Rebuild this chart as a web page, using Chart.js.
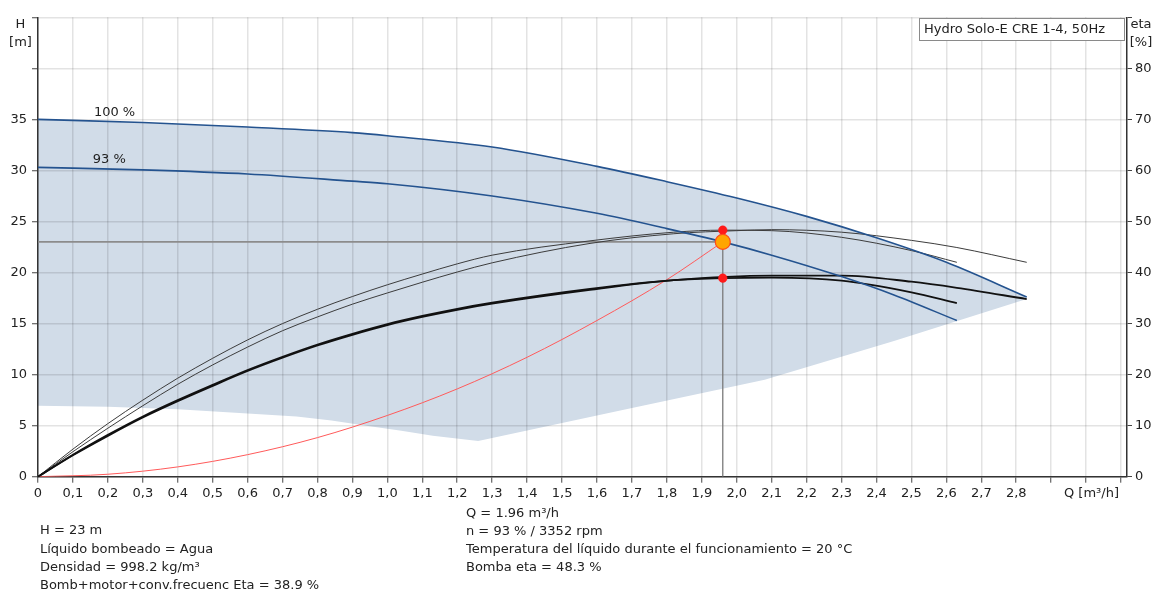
<!DOCTYPE html>
<html>
<head>
<meta charset="utf-8">
<script src="https://cdn.jsdelivr.net/npm/chart.js@4.4.0/dist/chart.umd.min.js"></script>
<style>
html,body{margin:0;padding:0;background:#fff;}
#wrap{width:1156px;height:595px;position:relative;}
</style>
</head>
<body>
<div id="wrap"><canvas id="c" width="1156" height="595"></canvas></div>
<script>
// ---------- tick values & labels ----------
const xTicks = [0,0.1,0.2,0.3,0.4,0.5,0.6,0.7,0.8,0.9,1.0,1.1,1.2,1.3,1.4,1.5,1.6,1.7,1.8,1.9,2.0,2.1,2.2,2.3,2.4,2.5,2.6,2.7,2.8,2.9,3.0,3.1];
const xTickLabels = ['0','0,1','0,2','0,3','0,4','0,5','0,6','0,7','0,8','0,9','1,0','1,1','1,2','1,3','1,4','1,5','1,6','1,7','1,8','1,9','2,0','2,1','2,2','2,3','2,4','2,5','2,6','2,7','2,8','','',''];
const hTicks = [0,5,10,15,20,25,30,35,40,45];
const hTickLabels = ['0','5','10','15','20','25','30','35','',''];
const etaTicks = [0,10,20,30,40,50,60,70,80,90];
const etaTickLabels = ['0','10','20','30','40','50','60','70','80',''];

// ---------- head curves (H [m]) ----------
const h100Q = [0, 0.3, 0.6, 0.9, 1.0, 1.3, 1.6, 1.8, 2.0, 2.2, 2.4, 2.6, 2.83];
const h100  = [35.0, 34.7, 34.25, 33.7, 33.4, 32.3, 30.4, 28.9, 27.3, 25.5, 23.4, 21.0, 17.6];
const h93Q  = [0, 0.3, 0.6, 0.9, 1.0, 1.3, 1.6, 1.8, 1.96, 2.1, 2.3, 2.45, 2.63];
const h93   = [30.3, 30.05, 29.65, 28.95, 28.7, 27.5, 25.8, 24.3, 23.0, 21.7, 19.6, 17.8, 15.3];

// lower boundary of operating range (shaded area)
const lowQ = [0, 0.2, 0.4, 0.6, 0.74, 0.84, 0.94, 1.04, 1.13, 1.26, 1.67, 2.08, 2.45, 2.83];
const lowH = [6.95, 6.85, 6.6, 6.2, 5.9, 5.5, 5.0, 4.5, 4.0, 3.5, 6.5, 9.5, 13.3, 17.4];

// system curve
const sysQ = [0, 0.2, 0.4, 0.6, 0.8, 1.0, 1.2, 1.4, 1.6, 1.8, 1.96];
const sysH = [0, 0.24, 0.96, 2.16, 3.83, 6.0, 8.6, 11.7, 15.3, 19.3, 23.0];

// ---------- efficiency curves (eta [%]) ----------
const etaP93Q = [0, 0.1, 0.2, 0.3, 0.4, 0.5, 0.6, 0.7, 0.8, 0.9, 1.0, 1.1, 1.2, 1.3, 1.58, 1.82, 1.96, 2.1, 2.3, 2.5, 2.63];
const etaP93  = [0, 5.4, 10.4, 15.0, 19.3, 23.2, 26.8, 30.0, 32.8, 35.3, 37.6, 39.7, 41.7, 43.4, 46.2, 47.9, 48.3, 48.2, 46.9, 44.3, 42.0];
const etaP100Q = [0, 0.1, 0.2, 0.3, 0.4, 0.5, 0.6, 0.7, 0.8, 0.9, 1.0, 1.1, 1.2, 1.3, 1.58, 1.82, 2.0, 2.1, 2.3, 2.5, 2.63, 2.83];
const etaP100  = [0, 4.9, 9.5, 13.9, 18.1, 21.9, 25.4, 28.6, 31.3, 33.8, 36.0, 38.1, 40.1, 41.9, 45.7, 47.6, 48.2, 48.4, 47.9, 46.3, 44.9, 42.0];
const etaT93Q = [0, 0.1, 0.2, 0.3, 0.4, 0.5, 0.6, 0.7, 0.8, 0.9, 1.0, 1.1, 1.2, 1.3, 1.58, 1.82, 1.96, 2.1, 2.3, 2.5, 2.63];
const etaT93  = [0, 4.3, 8.2, 11.8, 15.0, 18.0, 20.9, 23.5, 25.9, 28.0, 29.9, 31.5, 32.9, 34.1, 36.8, 38.5, 38.9, 39.0, 38.4, 36.1, 34.0];
const etaT100Q = [0, 0.1, 0.2, 0.3, 0.4, 0.5, 0.6, 0.7, 0.8, 0.9, 1.0, 1.1, 1.2, 1.3, 1.58, 1.82, 2.1, 2.3, 2.5, 2.63, 2.83];
const etaT100  = [0, 4.2, 8.0, 11.6, 14.8, 17.8, 20.7, 23.3, 25.7, 27.8, 29.7, 31.3, 32.7, 33.9, 36.6, 38.5, 39.4, 39.4, 38.2, 37.0, 34.8];

// ---------- operating point ----------
const opQ = [1.96];
const opH = [23];
const opEta = [48.3, 38.9];

// ---------- texts ----------
const titleText = 'Hydro Solo-E CRE 1-4, 50Hz';
const leftLines = ['H = 23 m', 'Líquido bombeado = Agua', 'Densidad = 998.2 kg/m³', 'Bomb+motor+conv.frecuenc Eta = 38.9 %'];
const midLines = ['Q = 1.96 m³/h', 'n = 93 % / 3352 rpm', 'Temperatura del líquido durante el funcionamiento = 20 °C', 'Bomba eta = 48.3 %'];

const pts = (qs, vs) => qs.map((q, i) => ({x: q, y: vs[i]}));

const FONT = '"DejaVu Sans", "Liberation Sans", Arial, sans-serif';
const TXT = '#222';
const GRID = 'rgba(0,0,0,0.11)';
Chart.defaults.font.family = FONT;
Chart.defaults.font.size = 13;
Chart.defaults.color = TXT;

const lineBase = {pointRadius: 0, pointHoverRadius: 0, fill: false, cubicInterpolationMode: 'monotone'};

const datasets = [
  // shaded operating range: upper edge (100 % curve) filled down to the lower boundary dataset (+1)
  Object.assign({}, lineBase, {data: pts(h100Q, h100), borderWidth: 0, borderColor: 'rgba(0,0,0,0)', backgroundColor: '#d1dce8', fill: '+1', yAxisID: 'y', order: 30}),
  Object.assign({}, lineBase, {data: pts(lowQ, lowH), cubicInterpolationMode: 'default', tension: 0, borderWidth: 0, borderColor: 'rgba(0,0,0,0)', yAxisID: 'y', order: 31}),
  Object.assign({}, lineBase, {data: pts(sysQ, sysH), borderColor: '#ff5a5a', borderWidth: 1, yAxisID: 'y', order: 8}),
  Object.assign({}, lineBase, {data: [{x: 0, y: opH[0]}, {x: opQ[0], y: opH[0]}], cubicInterpolationMode: 'default', tension: 0, borderColor: '#8c8c8c', borderWidth: 1.6, yAxisID: 'y', order: 7}),
  Object.assign({}, lineBase, {data: [{x: opQ[0], y: 0}, {x: opQ[0], y: opH[0]}], cubicInterpolationMode: 'default', tension: 0, borderColor: '#7a7a7a', borderWidth: 1.3, yAxisID: 'y', order: 7}),
  Object.assign({}, lineBase, {data: pts(etaP93Q, etaP93), borderColor: '#3c3c3c', borderWidth: 1, yAxisID: 'y2', order: 6}),
  Object.assign({}, lineBase, {data: pts(etaP100Q, etaP100), borderColor: '#3c3c3c', borderWidth: 1, yAxisID: 'y2', order: 6}),
  Object.assign({}, lineBase, {data: pts(etaT93Q, etaT93), borderColor: '#111', borderWidth: 1.8, yAxisID: 'y2', order: 5}),
  Object.assign({}, lineBase, {data: pts(etaT100Q, etaT100), borderColor: '#111', borderWidth: 1.8, yAxisID: 'y2', order: 5}),
  Object.assign({}, lineBase, {data: pts(h100Q, h100), borderColor: '#24538f', borderWidth: 1.6, yAxisID: 'y', order: 4}),
  Object.assign({}, lineBase, {data: pts(h93Q, h93), borderColor: '#24538f', borderWidth: 1.6, yAxisID: 'y', order: 4}),
  {data: [{x: opQ[0], y: opEta[0]}, {x: opQ[0], y: opEta[1]}], showLine: false, pointRadius: 4.3, pointHoverRadius: 4.3, pointBackgroundColor: '#ff1a1a', pointBorderColor: '#ff1a1a', pointBorderWidth: 0.5, yAxisID: 'y2', order: 1},
  {data: [{x: opQ[0], y: opH[0]}], showLine: false, pointRadius: 7.5, pointHoverRadius: 7.5, pointBackgroundColor: '#ffa500', pointBorderColor: '#ff4a1a', pointBorderWidth: 1.2, yAxisID: 'y', order: 0}
];

const textPlugin = {
  id: 'texts',
  afterDraw(chart) {
    const ctx = chart.ctx;
    const xs = chart.scales.x, ys = chart.scales.y;
    ctx.save();
    ctx.font = '13px ' + FONT;
    ctx.fillStyle = TXT;
    ctx.textBaseline = 'middle';
    ctx.textAlign = 'center';
    ctx.fillText('H', 20.5, 24.5);
    ctx.fillText('[m]', 20.5, 43);
    ctx.fillText('eta', 1141, 24.5);
    ctx.fillText('[%]', 1141, 43);
    ctx.fillText('Q [m³/h]', 1091.5, 494);
    // title box
    ctx.fillStyle = '#fff';
    ctx.fillRect(919.5, 18.5, 205, 22);
    ctx.strokeStyle = '#8a8a8a';
    ctx.lineWidth = 1;
    ctx.strokeRect(919.5, 18.5, 205, 22);
    ctx.fillStyle = TXT;
    ctx.textAlign = 'left';
    ctx.fillText(titleText, 924, 30);
    // curve labels
    ctx.fillText('100 %', xs.getPixelForValue(0.16), ys.getPixelForValue(35.66));
    ctx.fillText('93 %', xs.getPixelForValue(0.157), ys.getPixelForValue(31.05));
    // bottom info
    leftLines.forEach((t, i) => ctx.fillText(t, 40, 531 + i * 18.3));
    midLines.forEach((t, i) => ctx.fillText(t, 466, 514 + i * 18));
    ctx.restore();
  }
};

new Chart(document.getElementById('c'), {
  type: 'line',
  data: {datasets},
  options: {
    responsive: false,
    animation: false,
    layout: {padding: {top: 17.3, left: 0, right: 0, bottom: 0}},
    plugins: {
      legend: {display: false},
      tooltip: {enabled: false},
      filler: {drawTime: 'beforeDraw'}
    },
    scales: {
      x: {
        type: 'linear', min: 0, max: 3.117,
        afterBuildTicks: s => { s.ticks = xTicks.map(v => ({value: v})); },
        afterFit: s => { s.height = 118.3; },
        ticks: {autoSkip: false, maxRotation: 0, minRotation: 0, padding: 3, color: TXT, font: {size: 13},
                callback: (v, i) => xTickLabels[i]},
        grid: {color: GRID, lineWidth: 1.5, tickLength: 6, tickColor: '#444', tickWidth: 1},
        border: {color: '#333', width: 1.5}
      },
      y: {
        type: 'linear', position: 'left', min: 0, max: 45,
        afterBuildTicks: s => { s.ticks = hTicks.map(v => ({value: v})); },
        afterFit: s => { s.width = 38; },
        ticks: {autoSkip: false, padding: 5, color: TXT, font: {size: 13},
                callback: (v, i) => hTickLabels[i]},
        grid: {color: GRID, lineWidth: 1.5, tickLength: 6, tickColor: '#444', tickWidth: 1},
        border: {color: '#333', width: 1.5}
      },
      y2: {
        type: 'linear', position: 'right', min: 0, max: 90,
        afterBuildTicks: s => { s.ticks = etaTicks.map(v => ({value: v})); },
        afterFit: s => { s.width = 29; },
        ticks: {autoSkip: false, padding: 3, color: TXT, font: {size: 13},
                callback: (v, i) => etaTickLabels[i]},
        grid: {drawOnChartArea: false, tickLength: 5, tickColor: '#444', tickWidth: 1},
        border: {color: '#333', width: 1.5}
      }
    }
  },
  plugins: [textPlugin]
});
</script>
</body>
</html>
